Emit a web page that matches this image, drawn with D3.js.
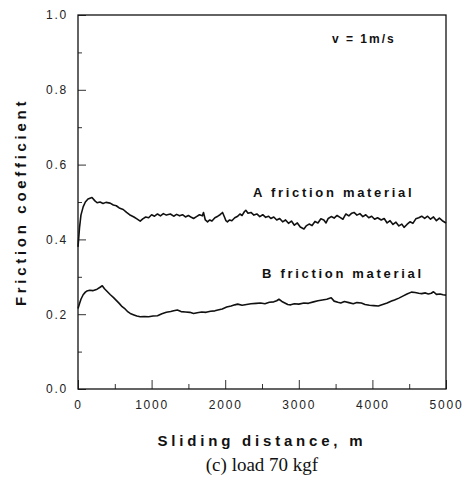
<!DOCTYPE html>
<html>
<head>
<meta charset="utf-8">
<script src="https://cdn.jsdelivr.net/npm/d3@7"></script>
<style>
  body { margin: 0; background: #fff; }
  svg { display: block; }
</style>
</head>
<body>
<main></main>
<script>
// Friction coefficient vs sliding distance (load 70 kgf)

const distanceA = [0, 20, 40, 70, 100, 136, 190, 230, 260, 300, 340, 380, 436, 480, 520, 560, 614, 660, 700, 760,
    800, 845, 880, 920, 960, 1000, 1040, 1080, 1120, 1160, 1200, 1255, 1300, 1340, 1380, 1420, 1460, 1500, 1540, 1570,
    1610, 1650, 1690, 1705, 1730, 1760, 1790, 1820, 1860, 1900, 1930, 1964, 1990, 2010, 2030, 2060, 2090, 2130, 2170, 2200,
    2230, 2260, 2280, 2310, 2350, 2390, 2430, 2470, 2510, 2550, 2590, 2620, 2660, 2700, 2740, 2780, 2820, 2860, 2900, 2940,
    2980, 3020, 3070, 3100, 3140, 3180, 3220, 3260, 3300, 3340, 3370, 3400, 3440, 3480, 3520, 3560, 3600, 3640, 3680, 3720,
    3750, 3790, 3830, 3870, 3910, 3950, 3990, 4030, 4070, 4120, 4160, 4200, 4240, 4280, 4320, 4360, 4400, 4430, 4470, 4510,
    4550, 4590, 4630, 4670, 4710, 4750, 4790, 4830, 4870, 4910, 4950, 5000];
const frictionA = [0.38, 0.43, 0.465, 0.487, 0.500, 0.508, 0.512, 0.503, 0.498, 0.500, 0.496, 0.499, 0.497, 0.492, 0.490, 0.484, 0.480, 0.472, 0.466, 0.460,
    0.455, 0.449, 0.455, 0.460, 0.458, 0.466, 0.462, 0.468, 0.463, 0.469, 0.465, 0.468, 0.462, 0.467, 0.463, 0.466, 0.460, 0.464, 0.459, 0.456,
    0.461, 0.466, 0.463, 0.472, 0.452, 0.447, 0.452, 0.449, 0.458, 0.462, 0.466, 0.472, 0.460, 0.450, 0.447, 0.452, 0.450, 0.458, 0.462, 0.468,
    0.464, 0.474, 0.478, 0.470, 0.472, 0.465, 0.468, 0.461, 0.466, 0.459, 0.462, 0.456, 0.460, 0.452, 0.456, 0.447, 0.452, 0.443, 0.449, 0.438,
    0.444, 0.433, 0.428, 0.436, 0.441, 0.437, 0.448, 0.444, 0.455, 0.452, 0.444, 0.456, 0.461, 0.457, 0.464, 0.459, 0.454, 0.468, 0.463, 0.470,
    0.472, 0.465, 0.469, 0.461, 0.466, 0.458, 0.462, 0.454, 0.458, 0.452, 0.456, 0.444, 0.450, 0.440, 0.446, 0.436, 0.441, 0.432, 0.440, 0.447,
    0.443, 0.455, 0.458, 0.462, 0.456, 0.462, 0.454, 0.460, 0.450, 0.457, 0.450, 0.444];

const distanceB = [0, 20, 40, 70, 100, 120, 160, 200, 230, 260, 300, 330, 360, 400, 440, 480, 520, 560, 600, 640,
    680, 710, 760, 800, 845, 900, 960, 1020, 1080, 1140, 1200, 1260, 1300, 1350, 1400, 1460, 1520, 1570, 1620, 1680,
    1740, 1800, 1860, 1900, 1960, 2020, 2080, 2130, 2170, 2230, 2290, 2350, 2420, 2480, 2540, 2600, 2660, 2700, 2730, 2770,
    2810, 2850, 2890, 2940, 3000, 3070, 3130, 3200, 3260, 3320, 3380, 3440, 3480, 3530, 3570, 3620, 3680, 3740, 3790, 3850,
    3900, 3960, 4020, 4080, 4140, 4200, 4260, 4300, 4360, 4420, 4470, 4530, 4580, 4630, 4670, 4720, 4760, 4800, 4830, 4870,
    4920, 4960, 5000];
const frictionB = [0.215, 0.228, 0.240, 0.252, 0.259, 0.262, 0.264, 0.263, 0.265, 0.267, 0.272, 0.276, 0.268, 0.260, 0.252, 0.245, 0.237, 0.229, 0.220, 0.214,
    0.206, 0.202, 0.198, 0.195, 0.193, 0.194, 0.193, 0.195, 0.196, 0.201, 0.205, 0.207, 0.209, 0.211, 0.207, 0.206, 0.205, 0.202, 0.204, 0.206,
    0.205, 0.208, 0.209, 0.211, 0.214, 0.219, 0.222, 0.225, 0.227, 0.224, 0.226, 0.228, 0.229, 0.230, 0.228, 0.232, 0.233, 0.236, 0.240, 0.234,
    0.230, 0.226, 0.225, 0.228, 0.227, 0.230, 0.229, 0.233, 0.236, 0.238, 0.240, 0.244, 0.235, 0.232, 0.230, 0.234, 0.231, 0.228, 0.231, 0.230,
    0.226, 0.224, 0.223, 0.222, 0.226, 0.230, 0.235, 0.238, 0.243, 0.249, 0.254, 0.259, 0.258, 0.256, 0.255, 0.257, 0.254, 0.256, 0.260, 0.253,
    0.254, 0.252, 0.251];

const xMajorTicks = [0, 1000, 2000, 3000, 4000, 5000];
const xMinorTicks = [500, 1500, 2500, 3500, 4500];
const yMajorTicks = [0.0, 0.2, 0.4, 0.6, 0.8, 1.0];
const yMinorTicks = [0.1, 0.3, 0.5, 0.7, 0.9];

const WIDTH = 466;
const HEIGHT = 482;
const margin = {left: 78, right: 20, top: 15, bottom: 93};

var svg = d3.select("main").append("svg")
            .attr("width", WIDTH)
            .attr("height", HEIGHT);

var x = d3.scaleLinear().domain([0, 5000]).range([margin.left, WIDTH - margin.right]);
var y = d3.scaleLinear().domain([0, 1]).range([HEIGHT - margin.bottom, margin.top]);

var font = "'Liberation Sans', Arial, sans-serif";

// Axes: ticks point inward
svg.append("g")
   .attr("transform", "translate(0," + y(0) + ")")
   .call(d3.axisBottom(x).tickValues(xMajorTicks).tickSize(-9).tickPadding(11)
           .tickFormat(d3.format("d")));
svg.append("g")
   .attr("transform", "translate(0," + y(0) + ")")
   .call(d3.axisBottom(x).tickValues(xMinorTicks).tickSize(-5).tickFormat(""));

svg.append("g")
   .attr("transform", "translate(" + x(0) + ",0)")
   .call(d3.axisLeft(y).tickValues(yMajorTicks).tickSize(-8).tickPadding(10)
           .tickFormat(d3.format(".1f")));
svg.append("g")
   .attr("transform", "translate(" + x(0) + ",0)")
   .call(d3.axisLeft(y).tickValues(yMinorTicks).tickSize(-4).tickFormat(""));

svg.selectAll(".domain").remove();
svg.selectAll(".tick line").style("stroke", "#333").style("stroke-width", 1);
svg.selectAll(".tick text")
   .style("font-family", font)
   .style("font-size", "12px")
   .style("letter-spacing", "1.8px")
   .style("fill", "#222");

// Frame
svg.append("rect")
   .attr("x", x(0))
   .attr("y", y(1))
   .attr("width", x(5000) - x(0))
   .attr("height", y(0) - y(1))
   .style("fill", "none")
   .style("stroke", "#111")
   .style("stroke-width", 1.3);

// Curves
var line = d3.line()
             .x(function(d) { return x(d[0]); })
             .y(function(d) { return y(d[1]); });

svg.append("path")
   .datum(d3.zip(distanceA, frictionA))
   .attr("d", line)
   .style("fill", "none")
   .style("stroke", "#111")
   .style("stroke-width", 1.6)
   .style("stroke-linejoin", "round");

svg.append("path")
   .datum(d3.zip(distanceB, frictionB))
   .attr("d", line)
   .style("fill", "none")
   .style("stroke", "#111")
   .style("stroke-width", 1.6)
   .style("stroke-linejoin", "round");

// Annotations
function label (text, px, py, size, spacing) {
    return svg.append("text")
              .attr("x", px)
              .attr("y", py)
              .style("font-family", font)
              .style("font-weight", "bold")
              .style("font-size", size + "px")
              .style("letter-spacing", spacing + "px")
              .style("fill", "#111")
              .text(text);
}

label("v = 1m/s", 332, 43, 12, 2.0);
label("A friction material", 253, 197, 13, 2.7);
label("B friction material", 262, 278, 13, 2.7);

// Axis titles
label("Sliding distance, m", (x(0) + x(5000)) / 2, 446, 15, 3.8)
   .style("text-anchor", "middle");

svg.append("text")
   .attr("transform", "translate(26," + (y(0) + y(1)) / 2 + ") rotate(-90)")
   .style("text-anchor", "middle")
   .style("font-family", font)
   .style("font-weight", "bold")
   .style("font-size", "15px")
   .style("letter-spacing", "3.7px")
   .style("fill", "#111")
   .text("Friction coefficient");

svg.append("text")
   .attr("x", (x(0) + x(5000)) / 2)
   .attr("y", 471)
   .style("text-anchor", "middle")
   .style("font-family", "'Liberation Serif', 'Times New Roman', serif")
   .style("font-size", "19px")
   .style("fill", "#111")
   .text("(c) load 70 kgf");
</script>
</body>
</html>
